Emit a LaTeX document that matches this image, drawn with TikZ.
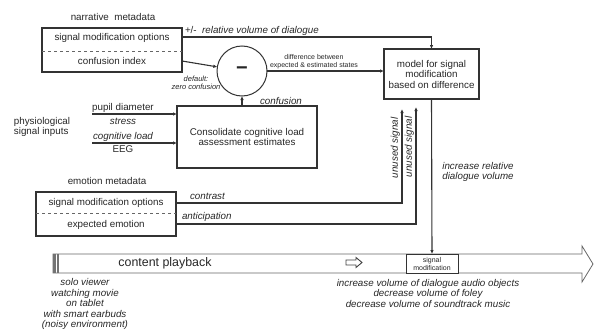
\documentclass[tikz,border=0pt]{standalone}
\usepackage{fontspec}
\setmainfont{Liberation Sans}
\usetikzlibrary{calc,arrows.meta}

\begin{document}
\begin{tikzpicture}[x=1pt,y=-1pt,inner sep=0pt,outer sep=0pt,
    every node/.style={text=black!85, font=\fontsize{9.8}{10.5}\selectfont},
    box/.style={draw=black!80, line width=1.1pt},
    wire/.style={draw=black!80, line width=1.1pt},
    arr/.style={wire, -{Latex[length=4pt,width=3.5pt]}},
    note/.style={font=\fontsize{9.8}{10.5}\selectfont\itshape},
    tiny/.style={font=\fontsize{7}{8}\selectfont}]
    \useasboundingbox (0,0) rectangle (599,332);

    % narrative metadata
    \node (narr_cap) at (113,17) {narrative\ \ metadata};
    \node[box, anchor=north west, minimum width=140, minimum height=44] (narr) at (42,28) {};
    \node (narr_opt) at (112,38) {signal modification options};
    \node (narr_conf) at (112,61) {confusion index};
    \draw[dashed, draw=black!60] (narr.west |- 0,51) -- (narr.east |- 0,51);

    % difference
    \node[circle, draw=black!80, line width=1pt, minimum size=50] (diff) at (242,71)
    {\fontsize{20}{20}\selectfont\bfseries −};
    \draw[arr] (narr.east |- narr_conf) -- (diff);
    \node[tiny, note, font=\fontsize{7.5}{8}\selectfont\itshape, align=center] (default_lbl) at (196,83)
    {default:\\zero confusion};

    % model
    \node[box, anchor=north west, minimum width=95, minimum height=50, align=center] (model) at (384,49)
    {model for signal\\modification\\based on difference};
    \draw[arr] (narr.east |- 0,37) -| (model.north);
    \node[note, anchor=south west] (rel_lbl) at (185,36) {{\upshape +/-}\ \ relative volume of dialogue};
    \draw[arr] (diff) -- (model.west |- diff);
    \node[tiny, align=center] (diff_lbl) at (314,62) {difference between\\expected \& estimated states};

    % consolidate
    \node[box, anchor=north west, minimum width=140, minimum height=62, align=center] (cons) at (177,106)
    {Consolidate cognitive load\\assessment estimates};
    \draw[arr] (cons.north -| diff) -- (diff.south);
    \node[note, anchor=south west] (conf_lbl) at (260,105) {confusion};

    % physiological inputs
    \node[align=left] (phys_lbl) at (42,127) {physiological\\signal inputs};
    \coordinate (pupil_in) at (92,114);
    \coordinate (eeg_in) at (92,143);
    \draw[arr] (pupil_in) -- (cons.west |- pupil_in);
    \draw[arr] (eeg_in) -- (cons.west |- eeg_in);
    \node (pupil_lbl) at (123,108) {pupil diameter};
    \node[note] (stress_lbl) at (123,121) {stress};
    \node[note] (load_lbl) at (123,137) {cognitive load};
    \node (eeg_lbl) at (123,149) {EEG};

    % emotion metadata
    \node (emo_cap) at (107,181) {emotion metadata};
    \node[box, anchor=north west, minimum width=140, minimum height=44] (emo) at (36,192) {};
    \node (emo_opt) at (106,203) {signal modification options};
    \node (emo_exp) at (106,225) {expected emotion};
    \draw[dashed, draw=black!60] (emo.west |- 0,213) -- (emo.east |- 0,213);
    \coordinate (unused_a) at (402,109);
    \coordinate (unused_b) at (416,107);
    \draw[arr] (emo.east |- 0,203) -| (unused_a);
    \draw[arr] (emo.east |- 0,224) -| (unused_b);
    \node[note, anchor=south west] (contrast_lbl) at (190,200) {contrast};
    \node[note, anchor=south west] (antic_lbl) at (182,222) {anticipation};
    \node[note, rotate=90, anchor=south] (unused_a_lbl) at (400,148) {unused signal};
    \node[note, rotate=90, anchor=south] (unused_b_lbl) at (414,147) {unused signal};
    \node[note, align=center] (incr_lbl) at (478,172) {increase relative\\dialogue volume};

    % content playback
    \draw[draw=black!60, line width=0.8pt] (53,254) -- (582,254) -- (582,246) -- (593,264)
    -- (582,282) -- (582,273) -- (53,273) -- cycle;
    \fill[black!55] (53,254) rectangle (55.5,273);
    \fill[black!55] (57,254) rectangle (59,273);
    \node[font=\fontsize{12.4}{13}\selectfont] (play_lbl) at (165,263) {content playback};
    \draw[black!75, line width=0.9pt] (346,260) -- (356,260) -- (356,257.5) -- (362,262.5)
    -- (356,267.5) -- (356,265) -- (346,265) -- cycle;
    \node[box, line width=0.8pt, anchor=north west, minimum width=52, minimum height=19, align=center,
    font=\fontsize{7}{8}\selectfont, fill=white] (sigmod) at (406,254) {signal\\modification};
    \draw[arr] (model.south) -- (sigmod.north);

    \node[note, align=center] (effects_lbl) at (428,293)
    {increase volume of dialogue audio objects\\decrease volume of foley\\decrease volume of soundtrack music};
    \node[note, align=center] (viewer_lbl) at (85,304)
    {solo viewer\\watching movie\\on tablet\\with smart earbuds\\(noisy environment)};

\end{tikzpicture}
\end{document}
